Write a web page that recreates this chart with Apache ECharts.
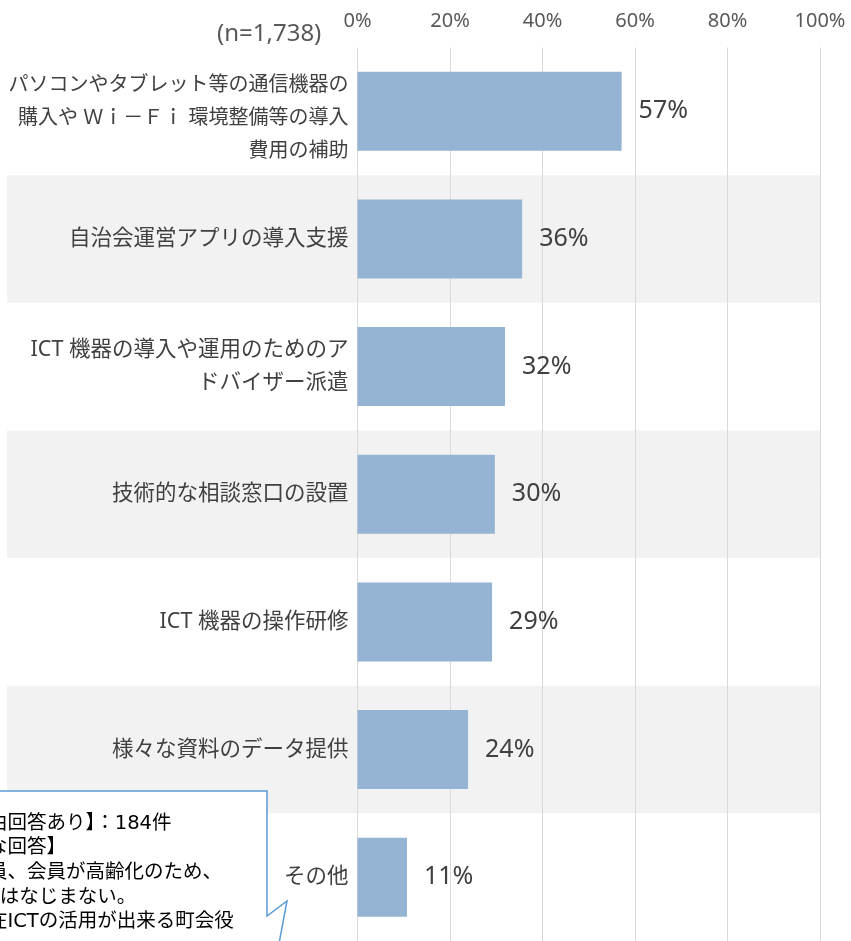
<!DOCTYPE html>
<html>
<head>
<meta charset="utf-8">
<script src="https://cdn.jsdelivr.net/npm/echarts@6/dist/echarts.min.js"></script>
<style>
html,body{margin:0;padding:0;background:#fff;}
#main{width:851px;height:941px;}
</style>
</head>
<body>
<div id="main"></div>
<script>
const categories = [
  'パソコンやタブレット等の通信機器の\n購入や Ｗｉ－Ｆｉ 環境整備等の導入\n費用の補助',
  '自治会運営アプリの導入支援',
  'ICT 機器の導入や運用のためのア\nドバイザー派遣',
  '技術的な相談窓口の設置',
  'ICT 機器の操作研修',
  '様々な資料のデータ提供',
  'その他'
];
const values = [57.1, 35.6, 31.9, 29.7, 29.1, 23.9, 10.7];
const bandFlags = [0, 1, 0, 1, 0, 1, 0];
const axisMin = 0, axisMax = 100, axisStep = 20;
const sampleNote = '(n=1,738)';
const calloutLines = [
  '【自由回答あり】：184件',
  '【主な回答】',
  '・役員、会員が高齢化のため、',
  '　ICTはなじまない。',
  '・現在ICTの活用が出来る町会役'
];

const LAT = "'Noto Sans', 'Noto Sans CJK JP', sans-serif";
const DV = "'DejaVu Sans', 'Noto Sans CJK JP', sans-serif";
const chart = echarts.init(document.getElementById('main'), null, {renderer: 'canvas'});

const GTOP = 47.5, GH = 896;
const calloutEls = calloutLines.map((t, i) => ({
  type: 'text', z: 101, left: -51, top: 826 + 24.6 * i - 12,
  style: {text: t, font: '19.5px ' + DV, fill: '#000000'}
}));

chart.setOption({
  animation: false,
  backgroundColor: '#ffffff',
  grid: [
    {left: 357.5, top: GTOP, width: 462.5, height: GH, containLabel: false},
    {left: 7, top: GTOP, width: 813, height: GH, containLabel: false}
  ],
  xAxis: [
    {
      gridIndex: 0, type: 'value', position: 'top', min: axisMin, max: axisMax, interval: axisStep, z: 1,
      axisLine: {show: false}, axisTick: {show: false},
      axisLabel: {formatter: '{value}%', color: '#595959', fontSize: 20, fontFamily: LAT, margin: 16},
      splitLine: {show: true, lineStyle: {color: '#d9d9d9', width: 1}}
    },
    {gridIndex: 1, type: 'value', min: 0, max: 1, show: false}
  ],
  yAxis: [
    {
      gridIndex: 0, type: 'category', data: categories, inverse: true,
      axisLine: {show: false}, axisTick: {show: false},
      axisLabel: {
        color: '#404040', fontSize: 21, fontFamily: LAT, margin: 9, align: 'right',
        formatter: (v, i) => i === 0 ? '{s| }\n{a|' + v + '}' : '{b|' + v + '}',
        rich: {
          s: {fontSize: 8, lineHeight: 14},
          a: {fontSize: 20, lineHeight: 33, color: '#404040', fontFamily: LAT, align: 'right'},
          b: {fontSize: 21.5, lineHeight: 33, color: '#404040', fontFamily: LAT, align: 'right'}
        }
      }
    },
    {gridIndex: 1, type: 'category', data: categories, inverse: true, show: false}
  ],
  series: [
    {
      type: 'bar', xAxisIndex: 1, yAxisIndex: 1, data: bandFlags, barWidth: '100%', z: 0, silent: true,
      itemStyle: {color: '#f2f2f2'}
    },
    {
      type: 'bar', xAxisIndex: 0, yAxisIndex: 0, data: values, barWidth: 79, z: 2,
      itemStyle: {color: '#95b3d3'},
      label: {show: true, position: 'right', distance: 17, color: '#404040', fontSize: 25, fontFamily: LAT,
        formatter: p => Math.round(p.value) + '%'}
    }
  ],
  graphic: [
    {type: 'text', z: 100, left: 217, top: 22,
      style: {text: sampleNote, font: '24px ' + LAT, fill: '#595959'}},
    {type: 'polygon', z: 100,
      shape: {points: [[-5, 791], [267, 791], [267, 916], [287, 901], [274, 970], [-5, 970]]},
      style: {fill: '#ffffff', stroke: '#5b9bd5', lineWidth: 1.5}},
    ...calloutEls
  ]
});
</script>
</body>
</html>
